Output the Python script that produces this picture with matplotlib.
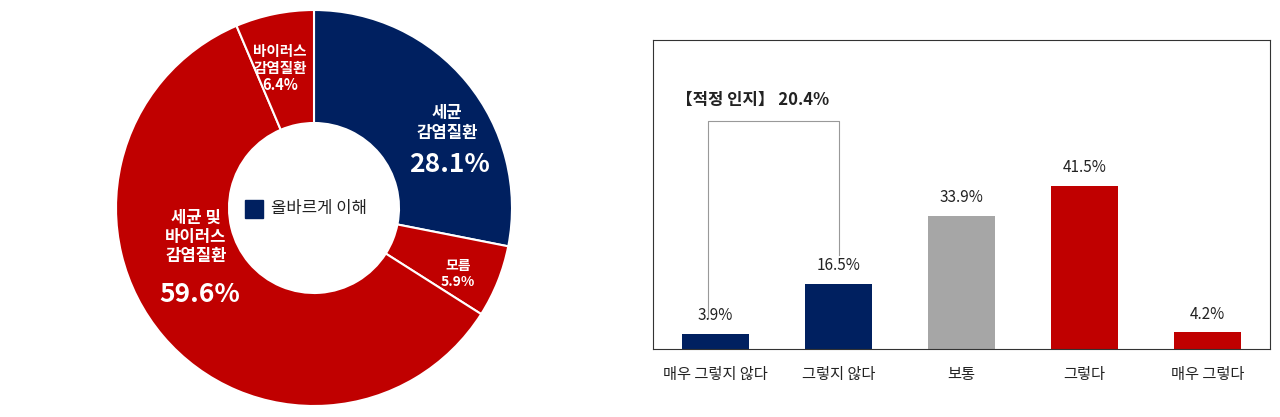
import matplotlib
matplotlib.use("Agg")
import matplotlib.pyplot as plt

plt.rcParams['font.family'] = ['Noto Sans CJK KR', 'DejaVu Sans']

pie_values = [28.1, 5.9, 59.6, 6.4]
pie_colors = ['#002060', '#C00000', '#C00000', '#C00000']
legend_label = '올바르게 이해'

categories = ['매우 그렇지 않다', '그렇지 않다', '보통', '그렇다', '매우 그렇다']
values = [3.9, 16.5, 33.9, 41.5, 4.2]
bar_colors = ['#002060', '#002060', '#A6A6A6', '#C00000', '#C00000']
bracket_label = '【적정 인지】 20.4%'

W, H = 1280, 417
fig = plt.figure(figsize=(W/100, H/100), dpi=100)

ax1 = fig.add_axes([116/W, 11/H, 396/W, 396/H])
ax1.pie(pie_values, colors=pie_colors, startangle=90, counterclock=False,
        radius=1, wedgeprops=dict(width=1-85/198, edgecolor='white', linewidth=1.5))
ax1.set_xlim(-1, 1); ax1.set_ylim(-1, 1); ax1.set_aspect('equal'); ax1.axis('off')

def ft(x, y, s, size, **kw):
    fig.text(x/W, 1-y/H, s, fontsize=size, color='white', fontweight='bold',
             ha='center', va='center', linespacing=1.1, **kw)
ft(447, 123, '세균\n감염질환', 12)
ft(450, 165, f'{pie_values[0]}%', 19)
ft(458, 274, f'모름\n{pie_values[1]}%', 10)
ft(196, 237, '세균 및\n바이러스\n감염질환', 12)
ft(200, 295, f'{pie_values[2]}%', 19)
ft(280, 68, f'바이러스\n감염질환\n{pie_values[3]}%', 10.5)
fig.patches.append(plt.Rectangle((245/W, 1-218/H), 18/W, 18/H, transform=fig.transFigure,
                                 color='#002060'))
fig.text(271/W, 1-209/H, legend_label, fontsize=12, va='center', ha='left', color='#222222')

ax2 = fig.add_axes([653/W, (H-349)/H, 617/W, 309/H])
x = list(range(len(categories)))
ax2.bar(x, values, width=0.54, color=bar_colors)
for xi, v in zip(x, values):
    ax2.text(xi, v + 2.5, f'{v}%', ha='center', va='bottom', fontsize=11, color='#222222')
ax2.set_xlim(-0.51, 4.51); ax2.set_ylim(0, 78.6)
ax2.set_xticks(x); ax2.set_xticklabels(categories, fontsize=11, color='#222222')
ax2.tick_params(axis='x', length=0, pad=12)
ax2.set_yticks([])
for s in ax2.spines.values():
    s.set_color('#333333'); s.set_linewidth(0.8)
ax2.plot([-0.065, -0.065, 1.0, 1.0], [7.9, 58, 58, 24], color='#999999', lw=0.8)
ax2.text(-0.32, 63.4, bracket_label, fontsize=12, fontweight='bold', ha='left', va='center',
         color='#222222')

fig.savefig('out.png', dpi=100)
